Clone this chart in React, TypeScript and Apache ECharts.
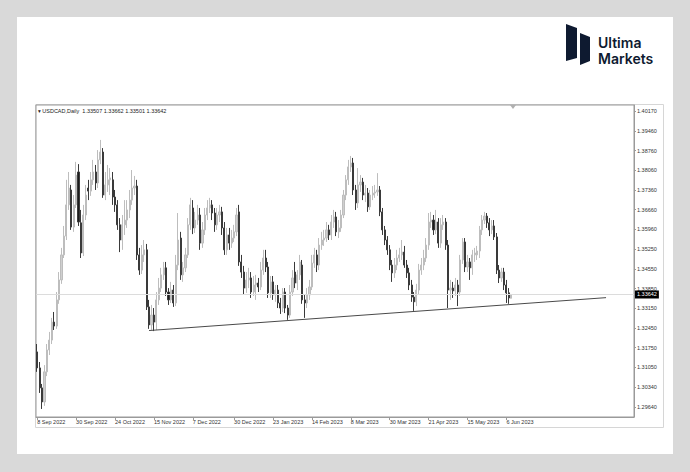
import { useEffect, useRef } from "react";
import * as echarts from "echarts";

const symbolTitle = "USDCAD,Daily";
const lastOHLC = [1.33507, 1.33662, 1.33501, 1.33642];
const currentPrice = 1.33642;
const startDate = "2022-09-08";
const totalSlots = 246;
const dateTickLabels = [
  "8 Sep 2022", "30 Sep 2022", "24 Oct 2022", "15 Nov 2022", "7 Dec 2022",
  "30 Dec 2022", "23 Jan 2023", "14 Feb 2023", "8 Mar 2023", "30 Mar 2023",
  "21 Apr 2023", "15 May 2023", "6 Jun 2023",
];
const priceTicks = [
  1.4017, 1.3946, 1.3876, 1.3806, 1.3736, 1.3666, 1.3596, 1.3525,
  1.3455, 1.3385, 1.3315, 1.3245, 1.3175, 1.3105, 1.3034, 1.2964,
];
const yMin = 1.29284;
const yMax = 1.40383;
// trend line anchors: [bar index, price]
const trendStart = [46, 1.3236];
const trendEnd = [234, 1.3353];
const logoLines = ["Ultima", "Markets"];

// [open, close, low, high]
const candles: number[][] = [
  [1.3160, 1.3103, 1.3089, 1.3188],
  [1.3103, 1.3032, 1.3014, 1.3124],
  [1.3032, 1.2982, 1.2957, 1.3046],
  [1.2982, 1.3089, 1.2968, 1.3113],
  [1.3089, 1.3167, 1.3074, 1.3188],
  [1.3167, 1.3202, 1.3149, 1.3231],
  [1.3202, 1.3266, 1.3188, 1.3281],
  [1.3266, 1.3252, 1.3238, 1.3302],
  [1.3252, 1.3345, 1.3242, 1.3373],
  [1.3345, 1.3416, 1.3331, 1.3444],
  [1.3416, 1.3505, 1.3402, 1.3530],
  [1.3505, 1.3572, 1.3494, 1.3608],
  [1.3572, 1.3683, 1.3558, 1.3772],
  [1.3683, 1.3743, 1.3665, 1.3800],
  [1.3736, 1.3604, 1.3594, 1.3754],
  [1.3604, 1.3683, 1.3587, 1.3718],
  [1.3683, 1.3789, 1.3672, 1.3836],
  [1.3800, 1.3622, 1.3608, 1.3828],
  [1.3619, 1.3512, 1.3494, 1.3665],
  [1.3512, 1.3647, 1.3501, 1.3683],
  [1.3647, 1.3718, 1.3629, 1.3754],
  [1.3743, 1.3732, 1.3700, 1.3772],
  [1.3732, 1.3772, 1.3715, 1.3800],
  [1.3772, 1.3800, 1.3754, 1.3843],
  [1.3800, 1.3761, 1.3736, 1.3825],
  [1.3761, 1.3843, 1.3743, 1.3878],
  [1.3843, 1.3871, 1.3828, 1.3914],
  [1.3871, 1.3718, 1.3708, 1.3885],
  [1.3718, 1.3754, 1.3700, 1.3800],
  [1.3754, 1.3772, 1.3729, 1.3825],
  [1.3772, 1.3779, 1.3718, 1.3814],
  [1.3772, 1.3711, 1.3683, 1.3800],
  [1.3711, 1.3683, 1.3658, 1.3736],
  [1.3683, 1.3612, 1.3594, 1.3700],
  [1.3612, 1.3558, 1.3515, 1.3636],
  [1.3558, 1.3612, 1.3523, 1.3647],
  [1.3612, 1.3629, 1.3576, 1.3700],
  [1.3629, 1.3665, 1.3601, 1.3700],
  [1.3665, 1.3700, 1.3636, 1.3736],
  [1.3700, 1.3743, 1.3683, 1.3807],
  [1.3743, 1.3750, 1.3718, 1.3786],
  [1.3750, 1.3505, 1.3487, 1.3772],
  [1.3505, 1.3451, 1.3434, 1.3530],
  [1.3451, 1.3505, 1.3437, 1.3540],
  [1.3505, 1.3523, 1.3480, 1.3558],
  [1.3523, 1.3320, 1.3309, 1.3544],
  [1.3320, 1.3256, 1.3242, 1.3345],
  [1.3256, 1.3291, 1.3238, 1.3327],
  [1.3291, 1.3266, 1.3234, 1.3316],
  [1.3266, 1.3345, 1.3238, 1.3373],
  [1.3345, 1.3387, 1.3327, 1.3423],
  [1.3387, 1.3434, 1.3373, 1.3459],
  [1.3434, 1.3459, 1.3416, 1.3480],
  [1.3459, 1.3373, 1.3359, 1.3480],
  [1.3373, 1.3345, 1.3327, 1.3387],
  [1.3345, 1.3380, 1.3334, 1.3409],
  [1.3380, 1.3334, 1.3320, 1.3398],
  [1.3334, 1.3469, 1.3323, 1.3505],
  [1.3469, 1.3558, 1.3451, 1.3654],
  [1.3565, 1.3434, 1.3416, 1.3587],
  [1.3434, 1.3459, 1.3409, 1.3480],
  [1.3459, 1.3505, 1.3444, 1.3530],
  [1.3505, 1.3612, 1.3494, 1.3636],
  [1.3612, 1.3683, 1.3594, 1.3708],
  [1.3672, 1.3601, 1.3579, 1.3700],
  [1.3601, 1.3629, 1.3583, 1.3658],
  [1.3629, 1.3647, 1.3612, 1.3683],
  [1.3647, 1.3547, 1.3523, 1.3672],
  [1.3547, 1.3594, 1.3530, 1.3622],
  [1.3594, 1.3647, 1.3576, 1.3672],
  [1.3647, 1.3672, 1.3629, 1.3700],
  [1.3672, 1.3683, 1.3654, 1.3708],
  [1.3683, 1.3654, 1.3629, 1.3700],
  [1.3654, 1.3612, 1.3587, 1.3672],
  [1.3612, 1.3647, 1.3594, 1.3672],
  [1.3647, 1.3658, 1.3622, 1.3683],
  [1.3658, 1.3601, 1.3576, 1.3676],
  [1.3601, 1.3523, 1.3505, 1.3622],
  [1.3523, 1.3576, 1.3505, 1.3601],
  [1.3576, 1.3547, 1.3523, 1.3601],
  [1.3547, 1.3565, 1.3530, 1.3594],
  [1.3565, 1.3587, 1.3551, 1.3612],
  [1.3587, 1.3647, 1.3572, 1.3672],
  [1.3658, 1.3480, 1.3466, 1.3683],
  [1.3480, 1.3444, 1.3423, 1.3505],
  [1.3444, 1.3387, 1.3363, 1.3466],
  [1.3387, 1.3416, 1.3370, 1.3444],
  [1.3416, 1.3423, 1.3387, 1.3459],
  [1.3423, 1.3373, 1.3352, 1.3444],
  [1.3373, 1.3398, 1.3359, 1.3430],
  [1.3398, 1.3405, 1.3345, 1.3434],
  [1.3405, 1.3391, 1.3373, 1.3423],
  [1.3391, 1.3451, 1.3380, 1.3480],
  [1.3451, 1.3494, 1.3434, 1.3523],
  [1.3494, 1.3462, 1.3444, 1.3523],
  [1.3462, 1.3370, 1.3352, 1.3480],
  [1.3370, 1.3409, 1.3352, 1.3430],
  [1.3409, 1.3363, 1.3345, 1.3430],
  [1.3363, 1.3380, 1.3338, 1.3398],
  [1.3380, 1.3334, 1.3316, 1.3398],
  [1.3334, 1.3316, 1.3295, 1.3352],
  [1.3316, 1.3373, 1.3302, 1.3387],
  [1.3373, 1.3316, 1.3298, 1.3387],
  [1.3316, 1.3291, 1.3274, 1.3327],
  [1.3291, 1.3373, 1.3281, 1.3398],
  [1.3373, 1.3423, 1.3359, 1.3451],
  [1.3444, 1.3405, 1.3387, 1.3480],
  [1.3405, 1.3434, 1.3380, 1.3451],
  [1.3434, 1.3480, 1.3416, 1.3505],
  [1.3469, 1.3345, 1.3331, 1.3487],
  [1.3345, 1.3334, 1.3281, 1.3363],
  [1.3334, 1.3363, 1.3316, 1.3387],
  [1.3363, 1.3391, 1.3345, 1.3416],
  [1.3391, 1.3476, 1.3380, 1.3505],
  [1.3476, 1.3505, 1.3459, 1.3530],
  [1.3505, 1.3469, 1.3444, 1.3523],
  [1.3469, 1.3540, 1.3451, 1.3565],
  [1.3540, 1.3558, 1.3523, 1.3587],
  [1.3558, 1.3565, 1.3537, 1.3594],
  [1.3565, 1.3594, 1.3551, 1.3622],
  [1.3594, 1.3576, 1.3558, 1.3612],
  [1.3576, 1.3622, 1.3558, 1.3647],
  [1.3622, 1.3640, 1.3601, 1.3665],
  [1.3640, 1.3587, 1.3572, 1.3658],
  [1.3587, 1.3601, 1.3565, 1.3629],
  [1.3601, 1.3647, 1.3587, 1.3665],
  [1.3647, 1.3718, 1.3636, 1.3736],
  [1.3718, 1.3772, 1.3700, 1.3789],
  [1.3772, 1.3818, 1.3754, 1.3843],
  [1.3818, 1.3832, 1.3800, 1.3857],
  [1.3832, 1.3736, 1.3718, 1.3850],
  [1.3736, 1.3690, 1.3665, 1.3754],
  [1.3690, 1.3754, 1.3672, 1.3814],
  [1.3754, 1.3764, 1.3729, 1.3789],
  [1.3764, 1.3718, 1.3700, 1.3779],
  [1.3718, 1.3725, 1.3693, 1.3754],
  [1.3725, 1.3676, 1.3658, 1.3743],
  [1.3676, 1.3718, 1.3665, 1.3736],
  [1.3718, 1.3725, 1.3700, 1.3750],
  [1.3725, 1.3729, 1.3708, 1.3754],
  [1.3729, 1.3736, 1.3715, 1.3796],
  [1.3736, 1.3658, 1.3643, 1.3750],
  [1.3658, 1.3594, 1.3576, 1.3672],
  [1.3594, 1.3558, 1.3540, 1.3608],
  [1.3558, 1.3523, 1.3505, 1.3572],
  [1.3523, 1.3469, 1.3451, 1.3540],
  [1.3469, 1.3441, 1.3409, 1.3487],
  [1.3441, 1.3469, 1.3423, 1.3494],
  [1.3469, 1.3494, 1.3451, 1.3523],
  [1.3494, 1.3505, 1.3480, 1.3530],
  [1.3505, 1.3515, 1.3487, 1.3558],
  [1.3515, 1.3469, 1.3459, 1.3537],
  [1.3469, 1.3441, 1.3423, 1.3487],
  [1.3441, 1.3398, 1.3380, 1.3459],
  [1.3398, 1.3355, 1.3338, 1.3416],
  [1.3355, 1.3338, 1.3306, 1.3373],
  [1.3338, 1.3380, 1.3323, 1.3402],
  [1.3380, 1.3451, 1.3366, 1.3473],
  [1.3451, 1.3469, 1.3434, 1.3494],
  [1.3469, 1.3494, 1.3451, 1.3523],
  [1.3494, 1.3540, 1.3480, 1.3565],
  [1.3540, 1.3622, 1.3523, 1.3654],
  [1.3622, 1.3629, 1.3601, 1.3658],
  [1.3629, 1.3594, 1.3576, 1.3647],
  [1.3594, 1.3622, 1.3579, 1.3665],
  [1.3622, 1.3547, 1.3530, 1.3636],
  [1.3547, 1.3612, 1.3530, 1.3636],
  [1.3612, 1.3622, 1.3594, 1.3647],
  [1.3622, 1.3540, 1.3523, 1.3636],
  [1.3540, 1.3380, 1.3316, 1.3558],
  [1.3380, 1.3387, 1.3345, 1.3416],
  [1.3387, 1.3377, 1.3352, 1.3409],
  [1.3377, 1.3398, 1.3359, 1.3423],
  [1.3398, 1.3373, 1.3323, 1.3416],
  [1.3373, 1.3487, 1.3359, 1.3505],
  [1.3487, 1.3551, 1.3473, 1.3565],
  [1.3551, 1.3462, 1.3444, 1.3565],
  [1.3462, 1.3480, 1.3444, 1.3505],
  [1.3480, 1.3459, 1.3416, 1.3494],
  [1.3459, 1.3505, 1.3434, 1.3523],
  [1.3505, 1.3512, 1.3480, 1.3530],
  [1.3505, 1.3519, 1.3487, 1.3537],
  [1.3519, 1.3594, 1.3494, 1.3608],
  [1.3594, 1.3629, 1.3576, 1.3647],
  [1.3629, 1.3643, 1.3615, 1.3658],
  [1.3643, 1.3619, 1.3601, 1.3654],
  [1.3619, 1.3594, 1.3572, 1.3636],
  [1.3594, 1.3608, 1.3579, 1.3629],
  [1.3608, 1.3569, 1.3558, 1.3629],
  [1.3569, 1.3451, 1.3437, 1.3583],
  [1.3451, 1.3423, 1.3405, 1.3469],
  [1.3423, 1.3444, 1.3409, 1.3459],
  [1.3444, 1.3398, 1.3380, 1.3459],
  [1.3398, 1.3370, 1.3334, 1.3416],
  [1.3370, 1.3352, 1.3331, 1.3387],
  [1.33507, 1.33642, 1.33501, 1.33662],
];

const MONTHS = ["Jan", "Feb", "Mar", "Apr", "May", "Jun", "Jul", "Aug", "Sep", "Oct", "Nov", "Dec"];

function buildWeekdays(start: string, n: number): string[] {
  const d = new Date(start + "T00:00:00Z");
  const out: string[] = [];
  while (out.length < n) {
    const wd = d.getUTCDay();
    if (wd !== 0 && wd !== 6) {
      out.push(`${d.getUTCDate()} ${MONTHS[d.getUTCMonth()]} ${d.getUTCFullYear()}`);
    }
    d.setUTCDate(d.getUTCDate() + 1);
  }
  return out;
}

const FONT = "'Liberation Sans', 'DejaVu Sans', sans-serif";

export default function App() {
  const ref = useRef<HTMLDivElement>(null);

  useEffect(() => {
    document.body.style.margin = "0";
    if (!ref.current) return;
    const chart = echarts.init(ref.current, undefined, { renderer: "svg" });
    const categories = buildWeekdays(startDate, totalSlots);
    const showTick = (_i: number, v: string) => dateTickLabels.includes(v);

    const header =
      "\u25BE " + symbolTitle + "  " + lastOHLC.map((v) => v.toFixed(5)).join(" ");

    chart.setOption({
      animation: false,
      backgroundColor: "#d9d9d9",
      grid: {
        left: 36,
        right: 56,
        top: 105,
        bottom: 55,
        show: true,
        backgroundColor: "#ffffff",
        borderColor: "#9a9a9a",
        borderWidth: 1,
      },
      xAxis: {
        type: "category",
        data: categories,
        boundaryGap: true,
        axisLine: { show: true, lineStyle: { color: "#9a9a9a", width: 1 } },
        axisTick: {
          show: true,
          interval: showTick,
          alignWithLabel: true,
          length: 3,
          lineStyle: { color: "#9a9a9a" },
        },
        axisLabel: {
          show: true,
          interval: showTick,
          align: "left",
          margin: 2,
          fontSize: 5.5,
          color: "#333",
          fontFamily: FONT,
        },
        splitLine: { show: false },
      },
      yAxis: {
        type: "value",
        position: "right",
        min: yMin,
        max: yMax,
        axisLine: { show: true, lineStyle: { color: "#9a9a9a", width: 1 } },
        axisTick: {
          show: true,
          customValues: priceTicks,
          length: 2,
          lineStyle: { color: "#9a9a9a" },
        },
        axisLabel: {
          show: true,
          customValues: priceTicks,
          formatter: (v: number) => v.toFixed(5),
          margin: 3,
          fontSize: 5.5,
          color: "#333",
          fontFamily: FONT,
        },
        splitLine: { show: false },
      },
      graphic: [
        {
          type: "rect",
          z: -100,
          shape: { x: 17, y: 17, width: 656, height: 437 },
          style: { fill: "#ffffff" },
        },
        {
          type: "rect",
          z: -90,
          shape: { x: 35.5, y: 104.5, width: 628, height: 323 },
          style: { fill: "#ffffff", stroke: "#d6d6d6", lineWidth: 1 },
        },
        {
          type: "polygon",
          shape: { points: [[566, 24], [577, 28], [577, 58], [566, 61]] },
          style: { fill: "#0e1a30" },
        },
        {
          type: "polygon",
          shape: { points: [[580, 33], [590, 37], [590, 61], [580, 65]] },
          style: { fill: "#0e1a30" },
        },
        ...logoLines.map((t, i) => ({
          type: "text",
          x: 598,
          y: 42 + i * 16,
          style: {
            text: t,
            fill: "#0e1a30",
            fontSize: 14,
            fontWeight: 600,
            fontFamily: "Inter, Roboto, sans-serif",
            verticalAlign: "middle",
          },
        })),
        {
          type: "text",
          x: 38,
          y: 111,
          style: {
            text: header,
            fill: "#222",
            fontSize: 5.5,
            fontFamily: FONT,
            verticalAlign: "middle",
          },
        },
        {
          type: "polygon",
          shape: { points: [[510, 105], [516, 105], [513, 109]] },
          style: { fill: "#b0b0b0" },
        },
      ],
      series: [
        {
          type: "candlestick",
          data: candles,
          barWidth: 1.6,
          itemStyle: {
            color: "#cfcfcf",
            borderColor: "#bdbdbd",
            color0: "#1c1c1c",
            borderColor0: "#3a3a3a",
            borderWidth: 1,
          },
          markLine: {
            silent: true,
            precision: 5,
            symbol: ["none", "none"],
            data: [
              {
                yAxis: currentPrice,
                lineStyle: { color: "#dcdcdc", width: 1, type: "solid" },
                label: {
                  show: true,
                  position: "end",
                  distance: 1,
                  formatter: currentPrice.toFixed(5),
                  backgroundColor: "#000",
                  color: "#fff",
                  fontSize: 5.5,
                  fontFamily: FONT,
                  padding: [1, 2],
                },
              },
              [
                {
                  coord: trendStart,
                  lineStyle: { color: "#4a4a4a", width: 1, type: "solid" },
                  label: { show: false },
                },
                { coord: trendEnd },
              ],
            ],
          },
        },
      ],
    });
    return () => chart.dispose();
  }, []);

  return <div ref={ref} style={{ width: 690, height: 472 }} />;
}
